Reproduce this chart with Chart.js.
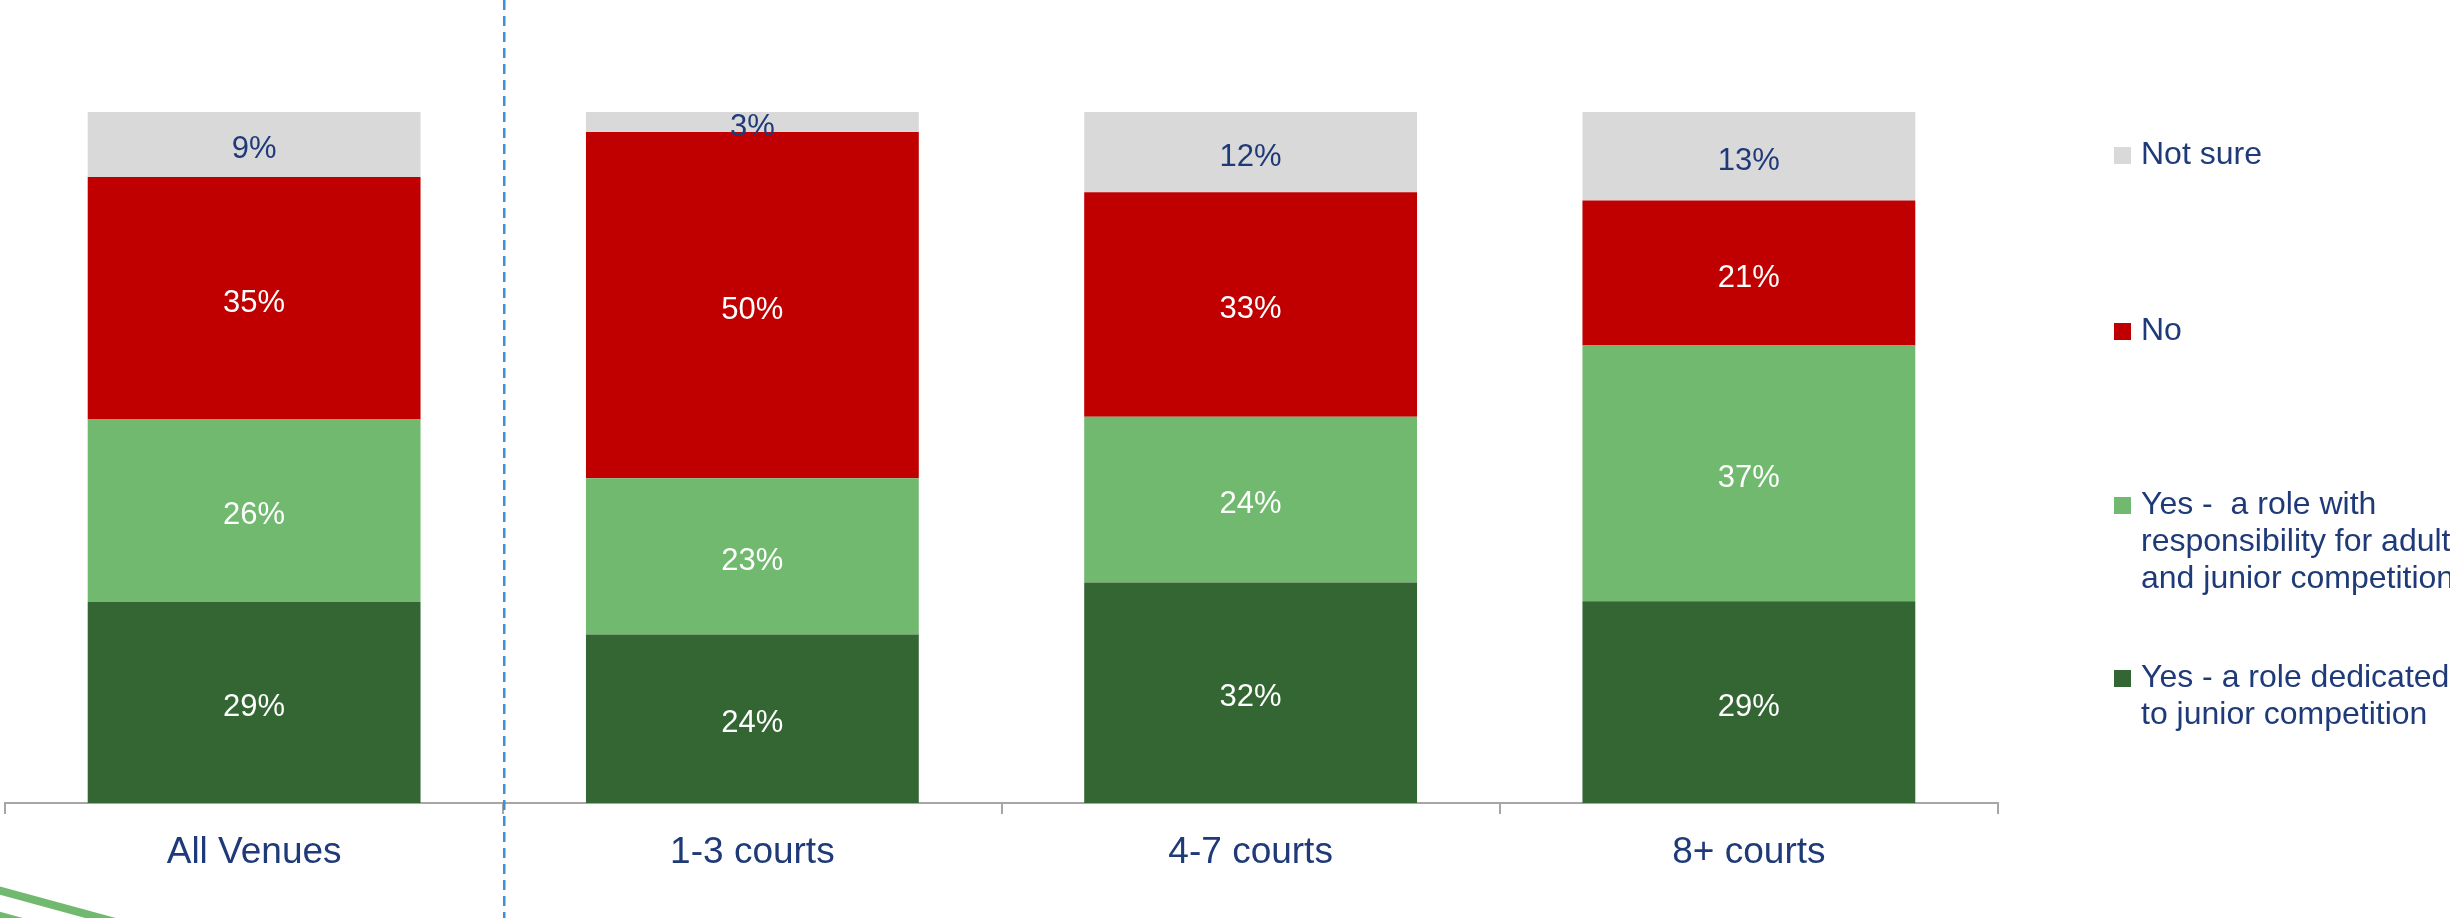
<!DOCTYPE html>
<html>
<head>
<meta charset="utf-8">
<script src="https://cdn.jsdelivr.net/npm/chart.js@4.4.1/dist/chart.umd.min.js"></script>
<style>
  html, body { margin: 0; padding: 0; background: #ffffff; }
  #wrap { position: relative; width: 2450px; height: 918px; }
</style>
</head>
<body>
<div id="wrap"><canvas id="myChart" width="2450" height="918"></canvas></div>
<script>
// Chart data
const categories = ['All Venues', '1-3 courts', '4-7 courts', '8+ courts'];
const seriesNames = [
    'Yes - a role dedicated\nto junior competition',
    'Yes -  a role with\nresponsibility for adult\nand junior competition',
    'No',
    'Not sure'
];
const yesDedicated = [29.1, 24.4, 31.9, 29.2];
const yesShared = [26.4, 22.6, 24.0, 37.0];
const noRole = [35.1, 50.1, 32.5, 21.0];
const notSure = [9.4, 2.9, 11.6, 12.8];

const colors = ['#336633', '#70B96F', '#C00000', '#D9D9D9'];
const labelColors = ['#ffffff', '#ffffff', '#ffffff', '#1F3A78'];
const navy = '#1F3A78';
const fontFamily = "'Liberation Sans', Arial, sans-serif";

// Value labels in the middle of each segment
const valueLabels = {
    id: 'valueLabels',
    afterDatasetsDraw(chart) {
        const ctx = chart.ctx;
        ctx.save();
        ctx.font = '31px ' + fontFamily;
        ctx.textAlign = 'center';
        ctx.textBaseline = 'middle';
        chart.data.datasets.forEach((ds, i) => {
            const meta = chart.getDatasetMeta(i);
            meta.data.forEach((bar, j) => {
                const yMid = (bar.y + bar.base) / 2;
                ctx.fillStyle = labelColors[i];
                ctx.fillText(Math.round(ds.data[j]) + '%', bar.x, yMid + 5);
            });
        });
        ctx.restore();
    }
};

// Dashed divider, right-hand legend and slide decoration
const extras = {
    id: 'extras',
    afterDraw(chart) {
        const ctx = chart.ctx;
        const x = chart.scales.x;
        ctx.save();

        // divider between "All Venues" and the court groups
        const xd = (x.getPixelForValue(0) + x.getPixelForValue(1)) / 2 + 1;
        ctx.strokeStyle = '#3E8FD4';
        ctx.lineWidth = 2.5;
        ctx.setLineDash([10, 6]);
        ctx.beginPath();
        ctx.moveTo(xd, 0);
        ctx.lineTo(xd, chart.height);
        ctx.stroke();
        ctx.setLineDash([]);

        // legend (top to bottom = reverse of stack order)
        const legendY = [155, 331, 505, 678];
        ctx.font = '32px ' + fontFamily;
        ctx.textAlign = 'left';
        ctx.textBaseline = 'middle';
        for (let k = 0; k < 4; k++) {
            const i = 3 - k;
            const y = legendY[k];
            ctx.fillStyle = colors[i];
            ctx.fillRect(2114, y - 8, 17, 17);
            ctx.fillStyle = navy;
            seriesNames[i].split('\n').forEach((line, n) => {
                ctx.fillText(line, 2141, y + n * 37);
            });
        }

        // green slide lines bottom-left
        ctx.strokeStyle = '#70B96F';
        ctx.lineWidth = 8;
        ctx.beginPath();
        ctx.moveTo(-10, 888);
        ctx.lineTo(130, 926);
        ctx.moveTo(-10, 913);
        ctx.lineTo(40, 927);
        ctx.stroke();
        ctx.restore();
    }
};

const ctx = document.getElementById('myChart').getContext('2d');
new Chart(ctx, {
    type: 'bar',
    data: {
        labels: categories,
        datasets: [yesDedicated, yesShared, noRole, notSure].map((d, i) => ({
            label: seriesNames[i],
            data: d,
            backgroundColor: colors[i],
            borderWidth: 0,
            categoryPercentage: 1.0,
            barPercentage: 0.668
        }))
    },
    options: {
        responsive: false,
        animation: false,
        layout: { padding: { top: 112, left: 5, right: 452, bottom: 0 } },
        plugins: {
            legend: { display: false },
            tooltip: { enabled: false }
        },
        scales: {
            x: {
                stacked: true,
                grid: {
                    drawOnChartArea: false,
                    drawTicks: true,
                    tickLength: 11,
                    color: '#A6A6A6',
                    lineWidth: 2
                },
                border: { display: true, color: '#A6A6A6', width: 2 },
                ticks: {
                    color: navy,
                    padding: 17,
                    font: { size: 37, family: fontFamily }
                },
                afterFit(scale) { scale.height = 115; }
            },
            y: {
                stacked: true,
                display: false,
                min: 0,
                max: 100
            }
        }
    },
    plugins: [valueLabels, extras]
});
</script>
</body>
</html>
